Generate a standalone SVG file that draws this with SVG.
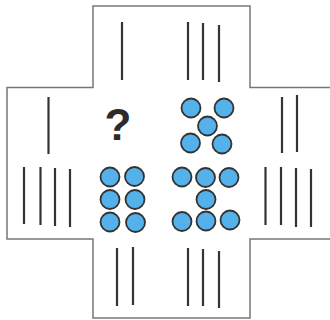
<svg xmlns="http://www.w3.org/2000/svg" width="330" height="320" viewBox="0 0 330 320">
<style>
.outline{fill:#fff;stroke:#777;stroke-width:1.5}
.bar{stroke:#333;stroke-width:2.2;stroke-linecap:butt}
.dot{fill:#55b1ea;stroke:#333;stroke-width:1.8}
.q{font-family:"Liberation Sans",Arial,sans-serif;font-size:44px;font-weight:bold;fill:#2b2b2b;text-anchor:middle}
</style>
<rect width="330" height="320" fill="#fff"/>
<g id="frame">
<path class="outline" d="M93,6 H250 V87.5 H332 V239 H250 V318 H93 V239 H7 V87.5 H93 Z"/>
</g>
<g id="connectors">
<g id="top-bars">
<line class="bar" x1="122" y1="22" x2="122" y2="80"/>
<line class="bar" x1="188" y1="22" x2="188" y2="80"/>
<line class="bar" x1="203" y1="23" x2="203" y2="80"/>
<line class="bar" x1="219" y1="25" x2="219" y2="82"/>
</g>
<g id="left-bars">
<line class="bar" x1="48.5" y1="97" x2="48.5" y2="154"/>
<line class="bar" x1="24" y1="167" x2="24" y2="224"/>
<line class="bar" x1="40.5" y1="167" x2="40.5" y2="225"/>
<line class="bar" x1="55" y1="168" x2="55" y2="226"/>
<line class="bar" x1="70" y1="169" x2="70" y2="227"/>
</g>
<g id="right-bars">
<line class="bar" x1="282" y1="97" x2="282" y2="153"/>
<line class="bar" x1="297" y1="95" x2="297" y2="152"/>
<line class="bar" x1="265.5" y1="167" x2="265.5" y2="225"/>
<line class="bar" x1="281" y1="167" x2="281" y2="225"/>
<line class="bar" x1="296" y1="168" x2="296" y2="227"/>
<line class="bar" x1="311" y1="169" x2="311" y2="227"/>
</g>
<g id="bottom-bars">
<line class="bar" x1="117" y1="248" x2="117" y2="306"/>
<line class="bar" x1="133" y1="247" x2="133" y2="305"/>
<line class="bar" x1="188" y1="248" x2="188" y2="306"/>
<line class="bar" x1="203" y1="249" x2="203" y2="306"/>
<line class="bar" x1="219" y1="251" x2="219" y2="308"/>
</g>
</g>
<g id="question">
<text class="q" x="118" y="140">?</text>
</g>
<g id="dots-five">
<circle class="dot" cx="191" cy="108" r="9.5"/>
<circle class="dot" cx="224" cy="108" r="9.5"/>
<circle class="dot" cx="207.5" cy="126" r="9.5"/>
<circle class="dot" cx="190.5" cy="143" r="9.5"/>
<circle class="dot" cx="222" cy="144" r="9.5"/>
</g>
<g id="dots-six">
<circle class="dot" cx="110" cy="177" r="9.5"/>
<circle class="dot" cx="134.5" cy="176.5" r="9.5"/>
<circle class="dot" cx="110" cy="199.5" r="9.5"/>
<circle class="dot" cx="135" cy="199.5" r="9.5"/>
<circle class="dot" cx="110" cy="222" r="9.5"/>
<circle class="dot" cx="135.5" cy="222.5" r="9.5"/>
</g>
<g id="dots-seven">
<circle class="dot" cx="182" cy="177" r="9.5"/>
<circle class="dot" cx="205.5" cy="177.5" r="9.5"/>
<circle class="dot" cx="229" cy="177.5" r="9.5"/>
<circle class="dot" cx="206" cy="199.5" r="9.5"/>
<circle class="dot" cx="182" cy="221.5" r="9.5"/>
<circle class="dot" cx="206" cy="221" r="9.5"/>
<circle class="dot" cx="230" cy="220" r="9.5"/>
</g>
</svg>
